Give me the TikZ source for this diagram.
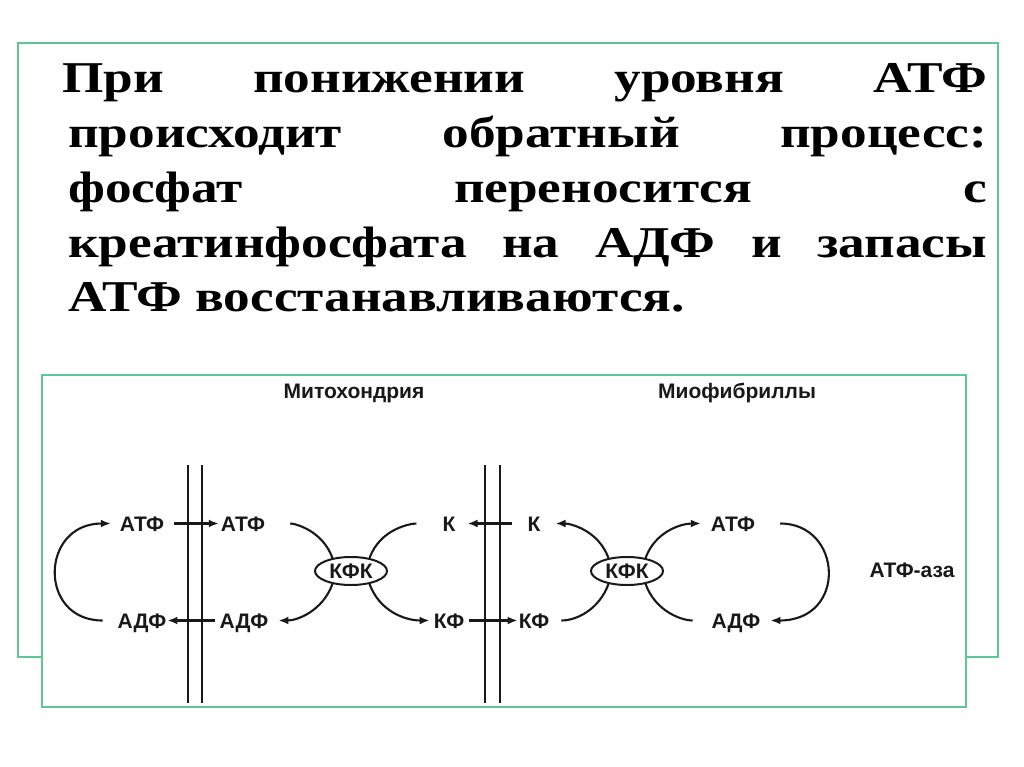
\documentclass[tikz,border=0pt]{standalone}
\usepackage{fontspec}
\usepackage{graphicx}
\setmainfont{Liberation Serif}
\newfontfamily\diagfont{Liberation Sans}
\usetikzlibrary{arrows.meta,shapes.geometric}
\definecolor{framegreen}{RGB}{96,196,150}
\definecolor{ink}{RGB}{25,25,25}
\begin{document}
\begin{tikzpicture}[x=1pt,y=1pt,
  lbl/.style={font=\diagfont\bfseries\fontsize{21}{21}\selectfont, text=ink, inner sep=0pt, anchor=base, text height=15pt, text depth=0pt},
  ttl/.style={font=\diagfont\bfseries\fontsize{21}{21}\selectfont, text=ink, inner sep=0pt},
  para/.style={font=\bfseries\fontsize{44}{44}\selectfont, inner sep=0pt, anchor=base west},
  enz/.style={ellipse, draw=ink, line width=2pt, minimum width=72pt, minimum height=28pt, inner sep=0pt, font=\diagfont\bfseries\fontsize{21}{21}\selectfont, text=ink},
  conn/.style={draw=ink, line width=2.1pt},
  arr/.style={conn, -{Latex[length=10pt,width=8pt]}},
  memb/.style={draw=ink, line width=1.8pt},
  frm/.style={draw=framegreen, line width=1.3pt}
]
\useasboundingbox (0,0) rectangle (1024,-767);
\fill[white] (0,0) rectangle (1024,-767);
% outer frame
\draw[frm] (18,-43) rectangle (998,-657);
% paragraph (horizontally stretched serif, justified)
\node[para] (l1) at (62,-93) {\scalebox{1.21}[1]{\makebox[764.5pt]{При\hfill понижении\hfill уровня\hfill АТФ}}};
\node[para] (l2) at (68,-148) {\scalebox{1.21}[1]{\makebox[759.5pt]{происходит\hfill обратный\hfill процесс:}}};
\node[para] (l3) at (68,-203) {\scalebox{1.21}[1]{\makebox[759.5pt]{фосфат\hfill переносится\hfill с}}};
\node[para] (l4) at (68,-258) {\scalebox{1.21}[1]{\makebox[759.5pt]{креатинфосфата\hfill на\hfill АДФ\hfill и\hfill запасы}}};
\node[para] (l5) at (68,-311) {\scalebox{1.21}[1]{АТФ восстанавливаются.}};
% inner diagram box
\draw[frm, fill=white] (42,-375) rectangle (966,-707);
% titles
\node[ttl] (t1) at (354,-393) {Митохондрия};
\node[ttl] (t2) at (737,-393) {Миофибриллы};
% membranes
\draw[memb] (188,-465) -- (188,-703);
\draw[memb] (202,-465) -- (202,-703);
\draw[memb] (485,-465) -- (485,-703);
\draw[memb] (500,-465) -- (500,-703);
% labels
\node[lbl] (a1) at (142,-531) {АТФ};
\node[lbl] (a2) at (243,-531) {АТФ};
\node[lbl] (d1) at (142,-628) {АДФ};
\node[lbl] (d2) at (244,-628) {АДФ};
\node[lbl] (k1) at (449,-531) {К};
\node[lbl] (kf1) at (449,-628) {КФ};
\node[lbl] (k2) at (534,-531) {К};
\node[lbl] (kf2) at (534,-628) {КФ};
\node[lbl] (a3) at (733,-531) {АТФ};
\node[lbl] (d3) at (736,-628) {АДФ};
\node[ttl] (aza) at (912,-570) {АТФ-аза};
\node[enz] (e1) at (351,-571) {КФК};
\node[enz] (e2) at (627,-571) {КФК};
% connectors left
\draw[arr, shorten <=15pt, shorten >=9pt] (d1.west) to[out=180,in=180,looseness=2.1] (a1.west);
\draw[arr, shorten <=10pt, shorten >=2pt] (a1.east) -- (a2.west);
\draw[arr, shorten <=5pt, shorten >=1pt] (d2.west) -- (d1.east);
\draw[conn, shorten <=25pt] (a2.east) to[out=0,in=110] (e1.145);
\draw[conn, shorten <=26pt] (k1.west) to[out=180,in=70] (e1.35);
\draw[arr, shorten >=10pt] (e1.215) to[out=-110,in=0] (d2.east);
\draw[arr, shorten >=4pt] (e1.325) to[out=-70,in=180] (kf1.west);
\draw[arr, shorten <=15pt, shorten >=12pt] (k2.west) -- (k1.east);
\draw[arr, shorten <=5pt, shorten >=1pt] (kf1.east) -- (kf2.west);
% connectors right
\draw[arr, shorten >=15pt] (e2.145) to[out=110,in=0] (k2.east);
\draw[arr, shorten >=10pt] (e2.35) to[out=70,in=180] (a3.west);
\draw[conn, shorten <=12pt] (kf2.east) to[out=0,in=-110] (e2.215);
\draw[conn, shorten <=19pt] (d3.west) to[out=180,in=-70] (e2.325);
\draw[arr, shorten <=25pt, shorten >=10pt] (a3.east) to[out=0,in=0,looseness=2.3] (d3.east);
\end{tikzpicture}
\end{document}
